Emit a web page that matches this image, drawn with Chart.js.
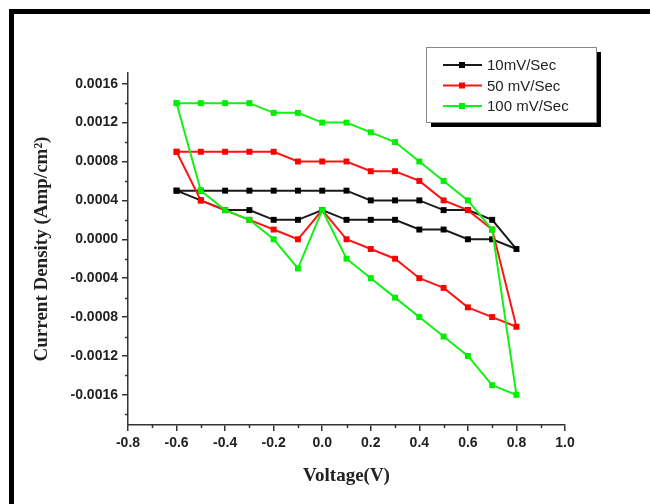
<!DOCTYPE html>
<html>
<head>
<meta charset="utf-8">
<script src="https://cdn.jsdelivr.net/npm/chart.js@4.4.1/dist/chart.umd.min.js"></script>
<style>
  html, body { margin: 0; padding: 0; background: #fff; overflow: hidden; }
  #wrap { position: relative; width: 650px; height: 504px; overflow: hidden; }
  #frame { position: absolute; left: 9px; top: 9px; width: 700px; height: 600px;
           border-left: 5px solid #000; border-top: 5px solid #000; }
  #cv { position: absolute; left: 0; top: 0; }
</style>
</head>
<body>
<div id="wrap">
  <div id="frame"></div>
  <canvas id="cv" width="650" height="504"></canvas>
</div>
<script>
// Voltaje del barrido: ida -0.6 -> 0.8 y vuelta 0.7 -> -0.6
const voltage = [-0.6, -0.5, -0.4, -0.3, -0.2, -0.1, 0.0, 0.1, 0.2, 0.3, 0.4, 0.5, 0.6, 0.7, 0.8,
                 0.7, 0.6, 0.5, 0.4, 0.3, 0.2, 0.1, 0.0, -0.1, -0.2, -0.3, -0.4, -0.5, -0.6];

const current10 = [0.0005, 0.0005, 0.0005, 0.0005, 0.0005, 0.0005, 0.0005, 0.0005, 0.0004, 0.0004, 0.0004, 0.0003, 0.0003, 0.0002, -0.0001,
                   0.0000, 0.0000, 0.0001, 0.0001, 0.0002, 0.0002, 0.0002, 0.0003, 0.0002, 0.0002, 0.0003, 0.0003, 0.0004, 0.0005];

const current50 = [0.0009, 0.0009, 0.0009, 0.0009, 0.0009, 0.0008, 0.0008, 0.0008, 0.0007, 0.0007, 0.0006, 0.0004, 0.0003, 0.0001, -0.0009,
                   -0.0008, -0.0007, -0.0005, -0.0004, -0.0002, -0.0001, 0.0000, 0.0003, 0.0000, 0.0001, 0.0002, 0.0003, 0.0004, 0.0009];

const current100 = [0.0014, 0.0014, 0.0014, 0.0014, 0.0013, 0.0013, 0.0012, 0.0012, 0.0011, 0.0010, 0.0008, 0.0006, 0.0004, 0.0001, -0.0016,
                    -0.0015, -0.0012, -0.0010, -0.0008, -0.0006, -0.0004, -0.0002, 0.0003, -0.0003, 0.0000, 0.0002, 0.0003, 0.0005, 0.0014];

const seriesLabels = ['10mV/Sec', '50 mV/Sec', '100 mV/Sec'];
const seriesColors = ['#1a1a1a', '#ff1414', '#14f014'];
const markerColors = ['#000000', '#ff0000', '#00ee00'];

const axisColor = '#333';
const tickFont = { family: '"Liberation Sans", Arial, sans-serif', size: 14, weight: 'bold' };
const titleFont = { family: '"Liberation Serif", "Times New Roman", serif', size: 19, weight: 'bold' };

function toPoints(ys) {
    return voltage.map((v, i) => ({ x: v, y: ys[i] }));
}

// Ticks menores (Origin style)
const minorTicks = {
    id: 'minorTicks',
    afterDraw(chart) {
        const ctx = chart.ctx;
        const xs = chart.scales.x, ys = chart.scales.y;
        ctx.save();
        ctx.strokeStyle = axisColor;
        ctx.lineWidth = 1.5;
        ctx.beginPath();
        for (let i = 0; i < 9; i++) {
            const px = Math.round(xs.getPixelForValue(-0.7 + i * 0.2)) + 0.5;
            ctx.moveTo(px, ys.bottom);
            ctx.lineTo(px, ys.bottom + 3);
        }
        for (let i = 0; i < 9; i++) {
            const py = Math.round(ys.getPixelForValue(-0.0018 + i * 0.0004)) + 0.5;
            ctx.moveTo(xs.left, py);
            ctx.lineTo(xs.left - 3, py);
        }
        ctx.stroke();
        ctx.restore();
    }
};

// Leyenda con caja y sombra
const boxLegend = {
    id: 'boxLegend',
    afterDraw(chart) {
        const ctx = chart.ctx;
        const area = chart.chartArea;
        const bx = area.left + 298, by = area.top - 26, bw = 170, bh = 75;
        ctx.save();
        ctx.fillStyle = '#000';
        ctx.fillRect(bx + 5, by + 5, bw, bh);
        ctx.fillStyle = '#fff';
        ctx.fillRect(bx, by, bw, bh);
        ctx.strokeStyle = '#888';
        ctx.lineWidth = 1;
        ctx.strokeRect(bx + 0.5, by + 0.5, bw, bh);
        ctx.font = '15px "Liberation Sans", Arial, sans-serif';
        ctx.textBaseline = 'middle';
        chart.data.datasets.forEach((ds) => {
            const idx = seriesLabels.indexOf(ds.label);
            const y = by + 18 + idx * 20.5;
            ctx.strokeStyle = ds.borderColor;
            ctx.lineWidth = 2;
            ctx.beginPath();
            ctx.moveTo(bx + 17, y);
            ctx.lineTo(bx + 56, y);
            ctx.stroke();
            ctx.fillStyle = ds.pointBackgroundColor;
            ctx.fillRect(bx + 33, y - 3, 6, 6);
            ctx.fillStyle = '#222';
            ctx.fillText(ds.label, bx + 61, y + 1);
        });
        ctx.restore();
    }
};

const datasets = [current10, current50, current100].map((ys, i) => ({
    label: seriesLabels[i],
    data: toPoints(ys),
    borderColor: seriesColors[i],
    backgroundColor: markerColors[i],
    pointBackgroundColor: markerColors[i],
    pointBorderColor: markerColors[i],
    pointStyle: 'rect',
    pointRadius: 4.2,
    pointBorderWidth: 0,
    borderWidth: 2,
    showLine: true,
    tension: 0,
    order: 2 - i
}));

new Chart(document.getElementById('cv'), {
    type: 'scatter',
    data: { datasets: datasets },
    options: {
        responsive: false,
        animation: false,
        layout: { padding: { top: 73, right: 85, bottom: 9, left: 0 } },
        plugins: {
            legend: { display: false },
            tooltip: { enabled: false }
        },
        scales: {
            x: {
                type: 'linear',
                min: -0.8,
                max: 1.0,
                afterFit: (s) => { s.height = 70; },
                border: { display: true, color: axisColor, width: 1.5 },
                grid: { drawOnChartArea: false, drawTicks: true, tickLength: 6, color: axisColor, lineWidth: 1.5 },
                ticks: {
                    stepSize: 0.2,
                    padding: 4,
                    color: '#222',
                    font: tickFont,
                    callback: (v) => (Math.abs(v) < 1e-9 ? 0 : v).toFixed(1)
                },
                title: {
                    display: true,
                    text: 'Voltage(V)',
                    color: '#222',
                    font: titleFont,
                    padding: { top: 0, bottom: 8 }
                }
            },
            y: {
                type: 'linear',
                min: -0.00191,
                max: 0.00171,
                afterFit: (s) => { s.width = 128; },
                border: { display: true, color: axisColor, width: 1.5 },
                grid: { drawOnChartArea: false, drawTicks: true, tickLength: 6, color: axisColor, lineWidth: 1.5 },
                ticks: {
                    stepSize: 0.0004,
                    includeBounds: false,
                    padding: 4,
                    color: '#222',
                    font: tickFont,
                    callback: (v) => (Math.abs(v) < 1e-9 ? 0 : v).toFixed(4)
                },
                title: {
                    display: true,
                    text: 'Current Density (Amp/cm²)',
                    color: '#222',
                    font: titleFont,
                    padding: { top: 31, bottom: 0 }
                }
            }
        }
    },
    plugins: [minorTicks, boxLegend]
});
</script>
</body>
</html>
